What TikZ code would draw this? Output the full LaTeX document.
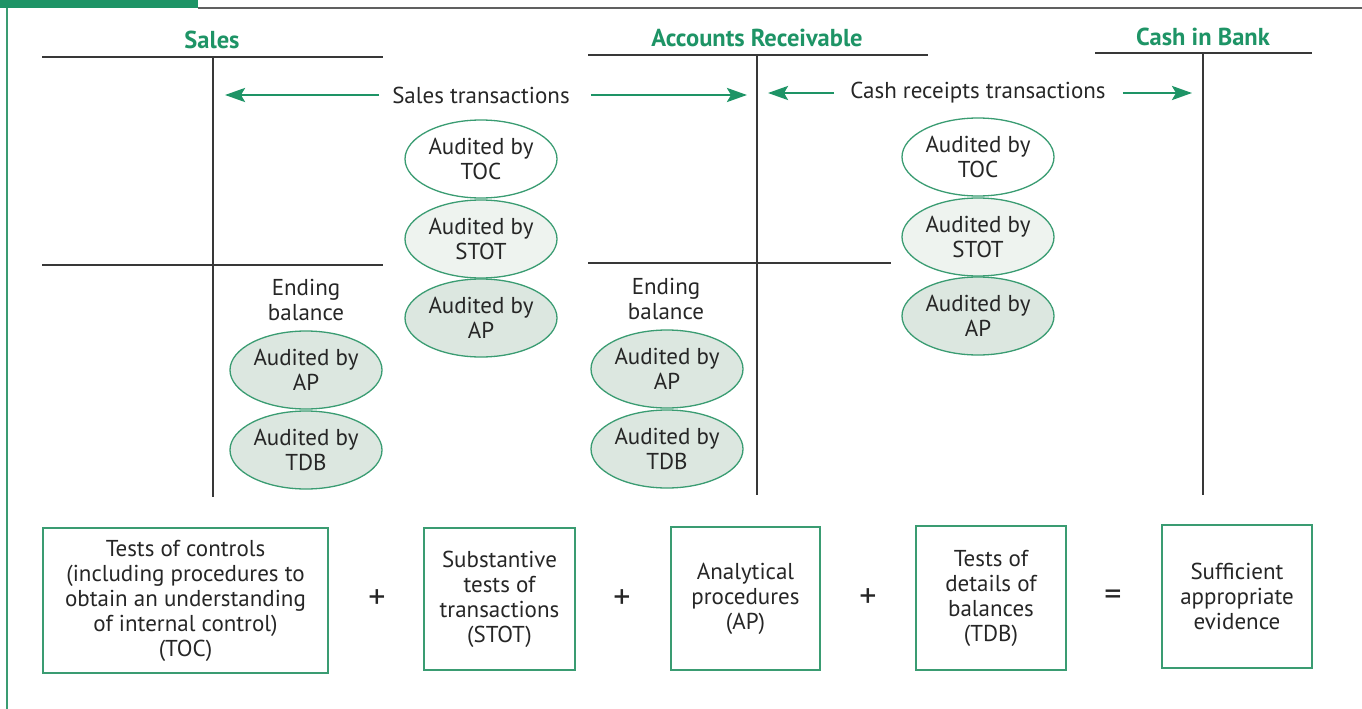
\documentclass[tikz,border=0pt]{standalone}
\usepackage{fontspec}
\setmainfont{PT Sans}
\usetikzlibrary{shapes.geometric,arrows.meta}

\definecolor{brand}{HTML}{1E9466}
\definecolor{edge}{HTML}{3A9C72}
\definecolor{rule}{HTML}{383838}
\definecolor{ink}{HTML}{262626}
\definecolor{fillA}{HTML}{EEF3EF}
\definecolor{fillB}{HTML}{DCE7E0}

\tikzset{
  acctline/.style={draw=rule, line width=2pt},
  acctvert/.style={draw=rule, line width=1.4pt},
  acctitle/.style={font=\fontsize{24.5}{28}\selectfont\bfseries, text=brand, inner sep=0pt},
  bodytext/.style={font=\fontsize{23}{25}\selectfont, text=ink, align=center, inner sep=0pt},
  flowarrow/.style={draw=brand, line width=2.6pt, -{Stealth[length=20pt,width=14pt,inset=4pt]}},
  audit/.style={ellipse, draw=edge, line width=1.3pt, minimum width=152pt,
    minimum height=78pt, inner sep=0pt, bodytext},
  methodbox/.style={draw=edge, line width=1.2pt, bodytext},
  opsign/.style={font=\fontsize{34}{34}\selectfont, text=ink, inner sep=0pt},
}

\begin{document}
\begin{tikzpicture}[x=1pt,y=-1pt]
\useasboundingbox (0,0) rectangle (1362,709);

% frame
\fill[brand] (0,0) rectangle (198,8);
\draw[rule!80, line width=1.5pt] (198,8) -- (1362,8);
\draw[edge, line width=1.5pt] (7,8) -- (7,709);

% T-account: Sales
\node[acctitle] (tSales) at (212,40) {Sales};
\draw[acctline] (42,57) -- (383,57);
\draw[acctvert] (213,57) -- (213,497);
\draw[acctline] (42,265) -- (383,265);

% T-account: Accounts Receivable
\node[acctitle] (tAR) at (757,38) {Accounts Receivable};
\draw[acctline] (588,55) -- (928,55);
\draw[acctvert] (757,55) -- (757,495);
\draw[acctline] (588,263) -- (891,263);

% T-account: Cash in Bank
\node[acctitle] (tCash) at (1203,37) {Cash in Bank};
\draw[acctline] (1095,53) -- (1312,53);
\draw[acctvert] (1203,53) -- (1203,495);

% transaction flows
\node[bodytext] (salesTx) at (481,95) {Sales transactions};
\coordinate (salesL) at (225,95);
\coordinate (salesR) at (747,95);
\draw[flowarrow] ([xshift=-13pt]salesTx.west) -- (salesL);
\draw[flowarrow] ([xshift=21pt]salesTx.east) -- (salesR);

\node[bodytext] (cashTx) at (978,93) {Cash receipts transactions};
\coordinate (cashL) at (768,93);
\coordinate (cashR) at (1192,93);
\draw[flowarrow] ([xshift=-16pt]cashTx.west) -- (cashL);
\draw[flowarrow] ([xshift=17pt]cashTx.east) -- (cashR);

% audit ellipses for sales transactions
\node[audit, fill=white] (sTOC) at (481,159) {Audited by\\TOC};
\node[audit, fill=fillA] (sSTOT) at (481,239) {Audited by\\STOT};
\node[audit, fill=fillB] (sAP) at (481,318) {Audited by\\AP};

% audit ellipses for cash receipts
\node[audit, fill=white] (cTOC) at (978,157) {Audited by\\TOC};
\node[audit, fill=fillA] (cSTOT) at (978,237) {Audited by\\STOT};
\node[audit, fill=fillB] (cAP) at (978,316) {Audited by\\AP};

% ending balance: Sales
\node[bodytext] (sEnd) at (306,300) {Ending\\balance};
\node[audit, fill=fillB] (sbAP) at (306,370) {Audited by\\AP};
\node[audit, fill=fillB] (sbTDB) at (306,450) {Audited by\\TDB};

% ending balance: Accounts Receivable
\node[bodytext] (aEnd) at (666,299) {Ending\\balance};
\node[audit, fill=fillB] (abAP) at (667,369) {Audited by\\AP};
\node[audit, fill=fillB] (abTDB) at (667,449) {Audited by\\TDB};

% evidence equation
\node[methodbox, minimum width=285pt, minimum height=145pt] (mTOC) at (185.5,600.5)
  {Tests of controls\\(including procedures to\\obtain an understanding\\of internal control)\\(TOC)};
\node[opsign] (p1) at (377,599) {+};
\node[methodbox, minimum width=151pt, minimum height=142pt] (mSTOT) at (499.5,599)
  {Substantive\\tests of\\transactions\\(STOT)};
\node[opsign] (p2) at (622,599) {+};
\node[methodbox, minimum width=149pt, minimum height=143pt] (mAP) at (745.5,598.5)
  {Analytical\\procedures\\(AP)};
\node[opsign] (p3) at (868,598) {+};
\node[methodbox, minimum width=150pt, minimum height=144pt] (mTDB) at (991,598)
  {Tests of\\details of\\balances\\(TDB)};
\node[opsign] (eq) at (1113,598) {=};
\node[methodbox, minimum width=150pt, minimum height=143pt] (mSAE) at (1237,596.5)
  {Sufficient\\appropriate\\evidence};
\end{tikzpicture}
\end{document}
